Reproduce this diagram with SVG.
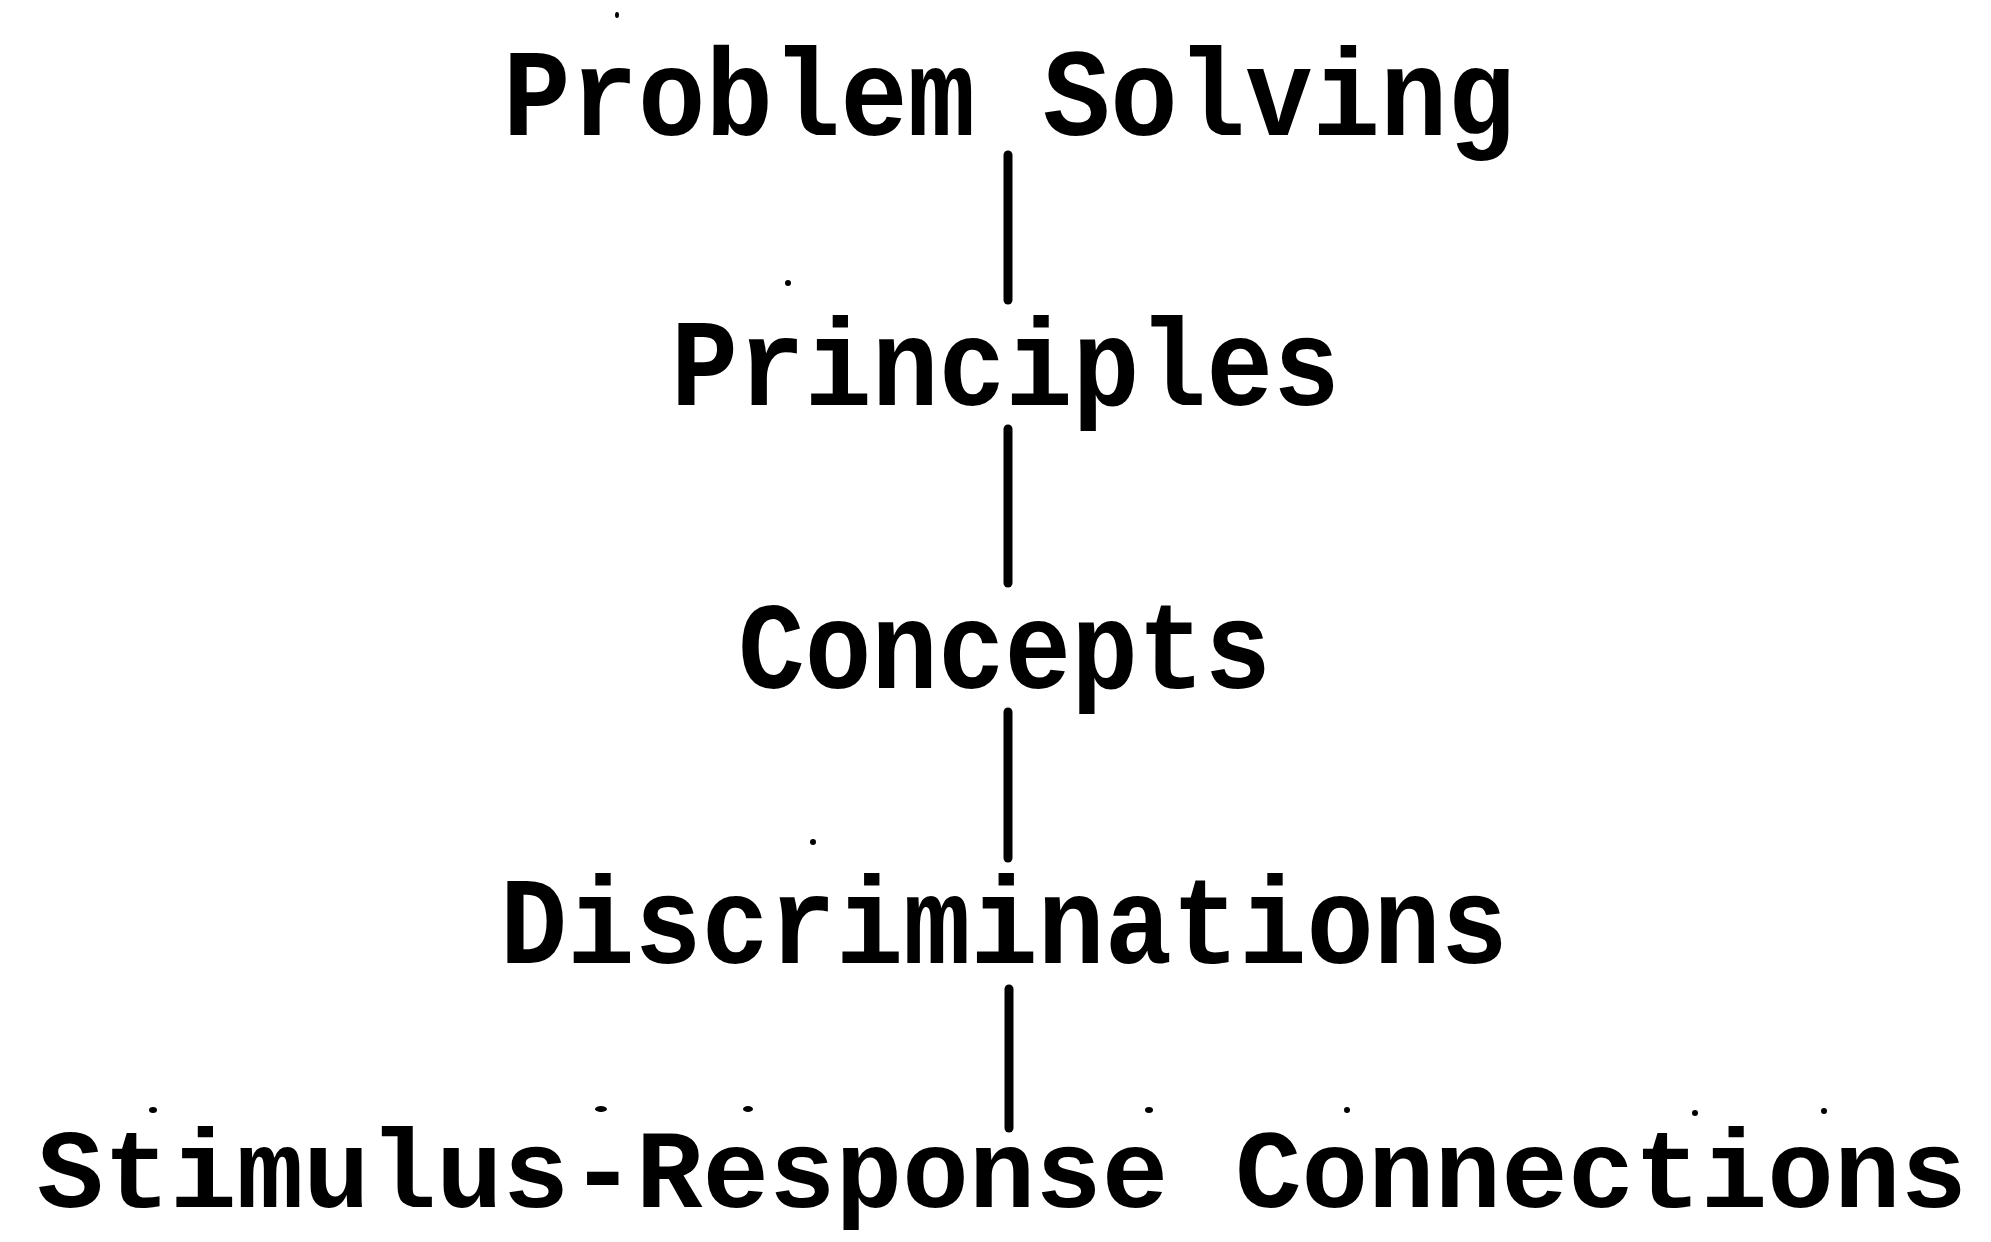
<svg xmlns="http://www.w3.org/2000/svg" width="1991" height="1242" viewBox="0 0 1991 1242">
<style>
.lbl{font-family:"Liberation Mono","Courier New",monospace;font-weight:bold;font-size:124px;fill:#000}
.conn{stroke:#000;stroke-width:9;stroke-linecap:round;fill:none}
.spk{fill:#000}
</style>
<rect width="1991" height="1242" fill="#fff"/>
<g id="connectors">
<line class="conn" x1="1008" y1="155" x2="1008" y2="300"/>
<line class="conn" x1="1008" y1="429" x2="1008" y2="583"/>
<line class="conn" x1="1008" y1="712" x2="1008" y2="858"/>
<line class="conn" x1="1009" y1="989" x2="1009" y2="1128"/>
</g>
<g id="node-problem-solving"><text class="lbl" x="503" y="135" textLength="1012" lengthAdjust="spacingAndGlyphs">Problem Solving</text></g>
<g id="node-principles"><text class="lbl" x="671" y="405" textLength="669" lengthAdjust="spacingAndGlyphs">Principles</text></g>
<g id="node-concepts"><text class="lbl" x="738" y="688" textLength="533" lengthAdjust="spacingAndGlyphs">Concepts</text></g>
<g id="node-discriminations"><text class="lbl" x="500" y="963" textLength="1008" lengthAdjust="spacingAndGlyphs">Discriminations</text></g>
<g id="node-sr-connections"><text class="lbl" x="37" y="1207" style="font-size:112px" textLength="1930" lengthAdjust="spacingAndGlyphs">Stimulus-Response Connections</text></g>
<g id="specks">
<ellipse class="spk" cx="617" cy="15" rx="2" ry="3"/>
<ellipse class="spk" cx="788" cy="283" rx="3" ry="3"/>
<ellipse class="spk" cx="813" cy="842" rx="3" ry="3"/>
<ellipse class="spk" cx="153" cy="1110" rx="4" ry="3"/>
<ellipse class="spk" cx="601" cy="1109" rx="6" ry="3"/>
<ellipse class="spk" cx="748" cy="1109" rx="5" ry="3"/>
<ellipse class="spk" cx="1149" cy="1110" rx="4" ry="3"/>
<ellipse class="spk" cx="1347" cy="1110" rx="3" ry="3"/>
<ellipse class="spk" cx="1695" cy="1113" rx="3" ry="3"/>
<ellipse class="spk" cx="1824" cy="1111" rx="3" ry="3"/>
</g>
</svg>
